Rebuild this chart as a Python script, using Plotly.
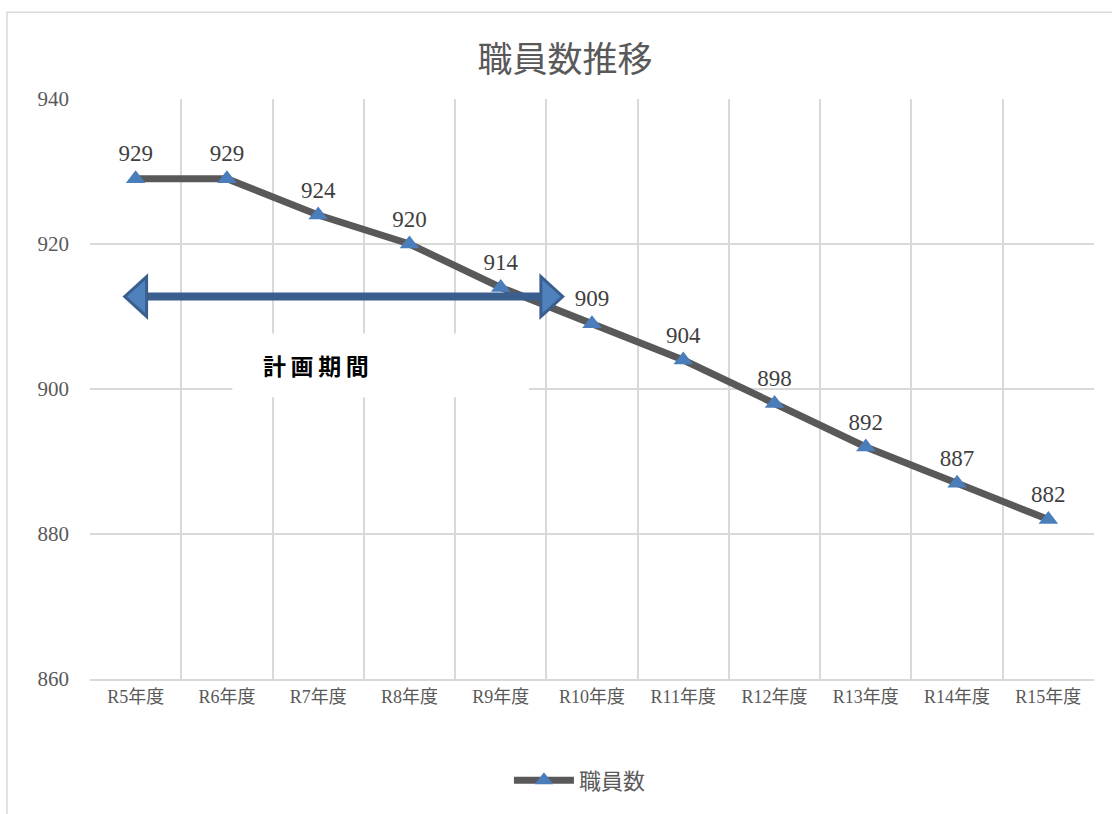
import plotly.graph_objects as go

categories = ["R5年度", "R6年度", "R7年度", "R8年度", "R9年度", "R10年度",
              "R11年度", "R12年度", "R13年度", "R14年度", "R15年度"]
staff = [929, 929, 924, 920, 914, 909, 904, 898, 892, 887, 882]
series_name = "職員数"
title_text = "職員数推移"
period_label = "計画期間"
period_value = 912.75
period_start = -0.12
period_end = 4.68

serif = "Liberation Serif, DejaVu Serif, Noto Sans CJK JP, serif"
sans = "Noto Sans CJK JP, sans-serif"

idx = list(range(len(categories)))

fig = go.Figure()
fig.add_trace(go.Scatter(
    x=idx, y=staff, mode="lines+markers+text", name=series_name,
    line=dict(color="#595959", width=7),
    marker=dict(symbol="triangle-up", size=17, color="#4A7EBB"),
    text=[str(v) for v in staff], textposition="top center",
    textfont=dict(family=serif, size=23, color="#404040"),
))

shapes = []
shapes.append(dict(type="rect", xref="paper", yref="paper",
                   x0=-0.0827, x1=1.2, y0=-0.6, y1=1.1495,
                   line=dict(color="#D9D9D9", width=1.5), fillcolor="rgba(0,0,0,0)",
                   layer="below"))
shapes.append(dict(type="rect", xref="x", yref="y",
                   x0=1.06, x1=4.31, y0=898.85, y1=907.65,
                   line=dict(width=0), fillcolor="white", layer="between"))
hl = 0.24
hh = 2.75
shapes.append(dict(type="line", xref="x", yref="y",
                   x0=period_start + hl * 0.8, x1=period_end - hl * 0.8,
                   y0=period_value, y1=period_value,
                   line=dict(color="#3A5F8F", width=8)))
lp = (f"M {period_start} {period_value} L {period_start + hl} {period_value + hh} "
      f"L {period_start + hl} {period_value - hh} Z")
rp = (f"M {period_end} {period_value} L {period_end - hl} {period_value + hh} "
      f"L {period_end - hl} {period_value - hh} Z")
for p in (lp, rp):
    shapes.append(dict(type="path", xref="x", yref="y", path=p,
                       fillcolor="#4F81BD", line=dict(color="#3A5F8F", width=3)))

spaced_label = "\u2009".join(period_label)

fig.update_layout(
    width=1112, height=814,
    margin=dict(l=90, r=18, t=99, b=133),
    paper_bgcolor="white", plot_bgcolor="white",
    title=dict(text=title_text, x=565 / 1112, xanchor="center", y=1 - 60 / 814,
               yanchor="middle", font=dict(family=sans, size=35, color="#595959")),
    shapes=shapes,
    showlegend=True,
    legend=dict(orientation="h", x=0.488, xanchor="center", y=-0.175, yanchor="middle",
                itemwidth=60,
                font=dict(family=sans, size=22, color="#595959")),
    annotations=[dict(text=f"<b>{spaced_label}</b>", x=1.98, y=903.3, xref="x", yref="y",
                      showarrow=False, font=dict(family=sans, size=23, color="#000000"))],
)
fig.update_xaxes(
    range=[-0.5, 10.5], tickvals=idx, ticktext=categories,
    showgrid=False, zeroline=False, showline=True, linecolor="#D9D9D9", linewidth=2,
    ticks="", ticklen=0,
    tickfont=dict(family=serif, size=18, color="#595959"),
    minor=dict(tickvals=[i - 0.5 for i in range(len(categories) + 1)],
               showgrid=True, gridcolor="#D9D9D9", gridwidth=1.5),
)
fig.update_yaxes(
    range=[860, 940], dtick=20, showgrid=True, gridcolor="#D9D9D9", gridwidth=1.5,
    zeroline=False, showline=False, ticks="", ticklabelstandoff=20,
    tickfont=dict(family=serif, size=21, color="#595959"),
)

fig.write_html("out.html")
